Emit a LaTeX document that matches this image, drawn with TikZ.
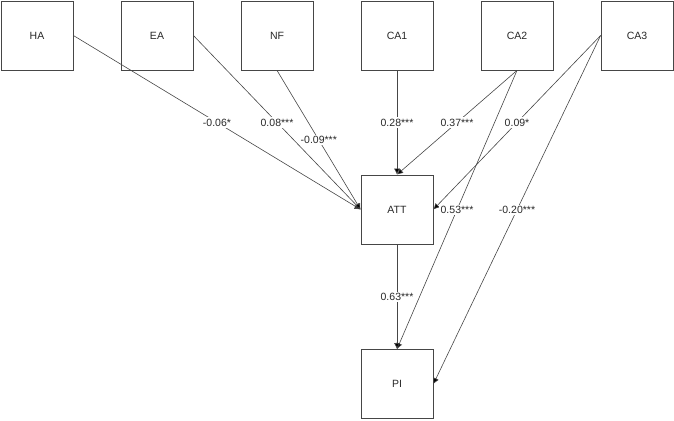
\documentclass[tikz,border=0pt]{standalone}
\usepackage{fontspec}
\setmainfont{Liberation Sans}
\usetikzlibrary{arrows.meta}
\definecolor{semLine}{RGB}{70,70,70}
\definecolor{semText}{RGB}{40,40,40}

\begin{document}
\begin{tikzpicture}[
  x=1pt, y=-1pt,
  var/.style={
    draw=semLine, line width=0.8pt, fill=white,
    minimum width=72pt, minimum height=69pt,
    font=\fontsize{10.5}{12}\selectfont, text=semText
  },
  path/.style={-{Latex[length=6pt,width=6pt,fill=black]}, line width=0.6pt, color=semLine},
  coef/.style={midway, fill=white, inner sep=1.5pt,
    font=\fontsize{10.5}{12}\selectfont, text=semText},
]
\useasboundingbox (0,0) rectangle (674,420);

%% Top row — predictors
\node[var] (ha)  at (37,  35.5) {HA};
\node[var] (ea)  at (157, 35.5) {EA};
\node[var] (nf)  at (277, 35.5) {NF};
\node[var] (ca1) at (397, 35.5) {CA1};
\node[var] (ca2) at (517, 35.5) {CA2};
\node[var] (ca3) at (637, 35.5) {CA3};

%% Mediator and outcome
\node[var] (att) at (397, 209.5) {ATT};
\node[var] (pi)  at (397, 384)   {PI};

%% Paths to ATT
\draw[path] (ha.east)  -- (att.west) node[coef] {-0.06*};
\draw[path] (ea.east)  -- (att.west) node[coef] {0.08***};
\draw[path] (nf.south) -- (att.west) node[coef] {-0.09***};
\draw[path] (ca1.south) -- (att.north) node[coef] {0.28***};
\draw[path] (ca2.south) -- (att.north) node[coef] {0.37***};
\draw[path] (ca3.west) -- (att.east) node[coef] {0.09*};

%% Paths to PI
\draw[path] (ca2.south) -- (pi.north) node[coef] {0.53***};
\draw[path] (ca3.west) -- (pi.east) node[coef] {-0.20***};
\draw[path] (att.south) -- (pi.north) node[coef] {0.63***};

\end{tikzpicture}
\end{document}
